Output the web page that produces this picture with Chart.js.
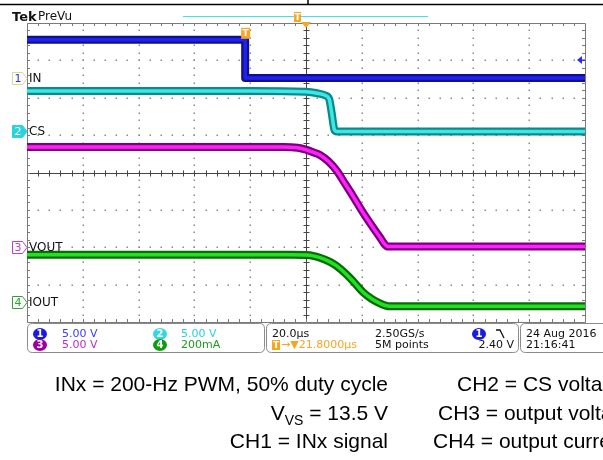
<!DOCTYPE html>
<html>
<head>
<meta charset="utf-8">
<script src="https://cdn.jsdelivr.net/npm/chart.js@4.4.0/dist/chart.umd.min.js"></script>
<style>
html, body { margin: 0; padding: 0; background: #fff; overflow: hidden; }
canvas { display: block; }
</style>
</head>
<body>
<canvas id="scope" width="603" height="460"></canvas>
<script>
// time in µs (20 µs/div, trigger at 0), level in divisions from screen centre
var ch1Time = [-100, -21.8, -21.8, 100];
var ch1Div  = [3.55, 3.55, 2.53, 2.53];
var ch2Time = [-100, -20, 0, 4, 7, 8.3, 9.2, 10.2, 11, 100];
var ch2Div  = [2.18, 2.18, 2.16, 2.12, 2.06, 1.97, 1.6, 1.14, 1.1, 1.1];
var ch3Time = [-100, -8, -3, 0, 3, 5, 8, 11, 14, 17, 20, 23, 26, 29.4, 100];
var ch3Div  = [0.68, 0.68, 0.66, 0.61, 0.53, 0.47, 0.3, 0.05, -0.3, -0.65, -1.02, -1.36, -1.68, -1.98, -1.98];
var ch4Time = [-100, -5, 0, 2.5, 5, 8.6, 11, 14.7, 17.5, 20.4, 23.5, 26.5, 28.5, 30.1, 32, 100];
var ch4Div  = [-2.2, -2.2, -2.21, -2.23, -2.28, -2.39, -2.5, -2.74, -2.96, -3.2, -3.38, -3.5, -3.56, -3.58, -3.58, -3.58];

var channelNames = ['IN', 'CS', 'VOUT', 'IOUT'];
var groundDiv = [2.53, 1.1, -1.98, -3.47];
var scaleText = ['5.00 V', '5.00 V', '5.00 V', '200mA'];
var triggerLevelV = 2.40;
var voltsPerDivCh1 = 5.0;

var darkCol = ['#10108a', '#0a8a8a', '#7a007a', '#0a6a0a'];
var brightCol = ['#2222f0', '#3ee6e6', '#ff22ff', '#22e022'];

function pts(t, v) {
  return t.map(function (x, i) { return { x: x, y: v[i] }; });
}

var traces = [pts(ch1Time, ch1Div), pts(ch2Time, ch2Div), pts(ch3Time, ch3Div), pts(ch4Time, ch4Div)];
var datasets = [];
traces.forEach(function (d, i) {
  var base = { data: d, pointRadius: 0, fill: false, borderJoinStyle: 'round', borderCapStyle: 'butt' };
  if (i === 0) base.tension = 0; else base.cubicInterpolationMode = 'monotone';
  datasets.push(Object.assign({}, base, { borderColor: brightCol[i], borderWidth: 3.5, order: 0 }));
  datasets.push(Object.assign({}, base, { borderColor: darkCol[i], borderWidth: 8, order: 1 }));
});

var UI = '"DejaVu Sans"';

var gridPlugin = {
  id: 'scopeGrid',
  beforeDatasetsDraw: function (chart) {
    var c = chart.ctx, a = chart.chartArea, sx = chart.scales.x, sy = chart.scales.y;
    c.save();
    c.fillStyle = '#8c8c8c';
    var i, k, px, py;
    for (i = -4; i <= 4; i++) {
      if (i === 0) continue;
      px = Math.round(sx.getPixelForValue(i * 20));
      for (k = -19; k <= 19; k++) {
        py = Math.round(sy.getPixelForValue(k * 0.2));
        c.fillRect(px - 0.5, py - 0.5, 1.5, 1.5);
      }
    }
    for (i = -3; i <= 3; i++) {
      if (i === 0) continue;
      py = Math.round(sy.getPixelForValue(i));
      for (k = -24; k <= 24; k++) {
        px = Math.round(sx.getPixelForValue(k * 4));
        c.fillRect(px - 0.5, py - 0.5, 1.5, 1.5);
      }
    }
    // centre cross
    var cx = Math.round(sx.getPixelForValue(0)) + 0.5, cy = Math.round(sy.getPixelForValue(0)) + 0.5;
    c.strokeStyle = '#444';
    c.lineWidth = 1;
    c.beginPath();
    c.moveTo(a.left, cy); c.lineTo(a.right, cy);
    c.moveTo(cx, a.top); c.lineTo(cx, a.bottom);
    for (k = -24; k <= 24; k++) {
      px = Math.round(sx.getPixelForValue(k * 4)) + 0.5;
      c.moveTo(px, cy - 3); c.lineTo(px, cy + 3);
    }
    for (k = -19; k <= 19; k++) {
      py = Math.round(sy.getPixelForValue(k * 0.2)) + 0.5;
      c.moveTo(cx - 3, py); c.lineTo(cx + 3, py);
    }
    c.stroke();
    // border with inward ticks
    c.strokeStyle = '#7a7a7a';
    c.beginPath();
    c.rect(Math.round(a.left) + 0.5, Math.round(a.top) + 0.5, Math.round(a.right - a.left), Math.round(a.bottom - a.top));
    for (k = -24; k <= 24; k++) {
      px = Math.round(sx.getPixelForValue(k * 4)) + 0.5;
      c.moveTo(px, a.top); c.lineTo(px, a.top + 3);
      c.moveTo(px, a.bottom); c.lineTo(px, a.bottom - 3);
    }
    for (k = -19; k <= 19; k++) {
      py = Math.round(sy.getPixelForValue(k * 0.2)) + 0.5;
      c.moveTo(a.left, py); c.lineTo(a.left + 3, py);
      c.moveTo(a.right, py); c.lineTo(a.right - 3, py);
    }
    c.stroke();
    c.restore();
  }
};

function chanBadge(c, x, y, n, fill, fg) {
  c.save();
  c.fillStyle = fill;
  c.beginPath();
  c.ellipse(x, y, 7, 6, 0, 0, Math.PI * 2);
  c.fill();
  c.fillStyle = fg;
  c.font = 'bold 10px ' + UI;
  c.textAlign = 'center';
  c.textBaseline = 'middle';
  c.fillText(n, x, y + 0.5);
  c.restore();
}

function tBox(c, x, y, w, h) {
  c.save();
  c.fillStyle = '#f5a623';
  c.fillRect(x, y, w, h);
  c.fillStyle = '#fff';
  c.font = 'bold 9px ' + UI;
  c.textAlign = 'center';
  c.textBaseline = 'middle';
  c.fillText('T', x + w / 2, y + h / 2 + 0.5);
  c.restore();
}

function roundBox(c, x, y, w, h, r) {
  c.beginPath();
  c.moveTo(x + r, y);
  c.lineTo(x + w - r, y); c.quadraticCurveTo(x + w, y, x + w, y + r);
  c.lineTo(x + w, y + h - r); c.quadraticCurveTo(x + w, y + h, x + w - r, y + h);
  c.lineTo(x + r, y + h); c.quadraticCurveTo(x, y + h, x, y + h - r);
  c.lineTo(x, y + r); c.quadraticCurveTo(x, y, x + r, y);
  c.stroke();
}

var overlayPlugin = {
  id: 'scopeOverlay',
  afterDraw: function (chart) {
    var c = chart.ctx, a = chart.chartArea, sx = chart.scales.x, sy = chart.scales.y;
    c.save();
    // page crop line
    c.strokeStyle = '#000';
    c.lineWidth = 1.5;
    c.beginPath();
    c.moveTo(0, 4.5); c.lineTo(603, 4.5);
    c.moveTo(308, 0); c.lineTo(308, 4.5);
    c.stroke();

    // header
    c.fillStyle = '#111';
    c.textAlign = 'left';
    c.textBaseline = 'alphabetic';
    c.font = 'bold 13px ' + UI;
    c.fillText('Tek', 12, 21);
    c.font = '12px ' + UI;
    c.fillText('PreVu', 38, 20);

    // record bar
    c.strokeStyle = '#3de3ee';
    c.lineWidth = 1.2;
    c.beginPath();
    c.moveTo(183, 16.5); c.lineTo(428, 16.5);
    c.stroke();
    tBox(c, 294, 12, 7, 10);
    var trigX = sx.getPixelForValue(0);
    c.fillStyle = '#f5a623';
    c.beginPath();
    c.moveTo(trigX - 5, a.top - 1); c.lineTo(trigX + 5, a.top - 1); c.lineTo(trigX, a.top + 5);
    c.closePath(); c.fill();

    // trigger point on CH1
    var tpX = sx.getPixelForValue(ch1Time[1]);
    tBox(c, tpX - 4, sy.getPixelForValue(ch1Div[1]) - 12, 9, 11);

    // trigger level arrow
    var tlY = sy.getPixelForValue(groundDiv[0] + triggerLevelV / voltsPerDivCh1);
    c.fillStyle = '#2a2aff';
    c.beginPath();
    c.moveTo(a.right - 8, tlY); c.lineTo(a.right - 3, tlY - 4); c.lineTo(a.right - 3, tlY + 4);
    c.closePath(); c.fill();
    c.fillRect(a.right - 4, tlY - 0.5, 4, 1.5);

    // ground markers
    var mStroke = ['#d8d890', '#2ad4de', '#c040c0', '#30a030'];
    var mFill = [null, '#2ad4de', null, null];
    var mText = ['#2a2aff', '#fff', '#c040c0', '#30a030'];
    for (var i = 0; i < 4; i++) {
      var gy = Math.round(sy.getPixelForValue(groundDiv[i])) + 0.5;
      c.beginPath();
      c.moveTo(12.5, gy - 6); c.lineTo(22.5, gy - 6); c.lineTo(27, gy); c.lineTo(22.5, gy + 6); c.lineTo(12.5, gy + 6);
      c.closePath();
      if (mFill[i]) { c.fillStyle = mFill[i]; c.fill(); }
      c.strokeStyle = mStroke[i]; c.lineWidth = 1; c.stroke();
      c.fillStyle = mText[i];
      c.font = '11px ' + UI;
      c.textAlign = 'center'; c.textBaseline = 'middle';
      c.fillText(String(i + 1), 18, gy + 0.5);
      c.fillStyle = '#111';
      c.font = '12px ' + UI;
      c.textAlign = 'left';
      c.fillText(channelNames[i], 29, gy + 0.5);
    }

    // status panel
    c.strokeStyle = '#8a8a8a';
    c.lineWidth = 1;
    roundBox(c, 27.5, 323.5, 237, 29, 5);
    roundBox(c, 266.5, 323.5, 252, 29, 5);
    roundBox(c, 520.5, 323.5, 100, 29, 5);
    var r1 = 334, r2 = 345;
    chanBadge(c, 40, r1, '1', '#1a1ae0', '#fff');
    chanBadge(c, 40, r2, '3', '#9a009a', '#fff');
    chanBadge(c, 160, r1, '2', '#30d8e2', '#fff');
    chanBadge(c, 160, r2, '4', '#139a13', '#fff');
    chanBadge(c, 479, r1, '1', '#1a1ae0', '#fff');
    tBox(c, 272, r2 - 5, 8, 10);

    c.font = '11px ' + UI;
    c.textAlign = 'left'; c.textBaseline = 'middle';
    c.fillStyle = '#3a3aff'; c.fillText(scaleText[0], 62, r1);
    c.fillStyle = '#c02cc0'; c.fillText(scaleText[2], 62, r2);
    c.fillStyle = '#28d0dc'; c.fillText(scaleText[1], 181, r1);
    c.fillStyle = '#1e9a1e'; c.fillText(scaleText[3], 181, r2);

    c.fillStyle = '#111';
    c.fillText('20.0\u00b5s', 272, r1);
    c.fillText('2.50GS/s', 375, r1);
    c.fillText('5M points', 375, r2);
    c.fillStyle = '#f5a623';
    c.fillText('\u2192\u25bc21.8000\u00b5s', 281, r2);
    c.strokeStyle = '#111'; c.lineWidth = 1.3;
    c.beginPath();
    c.moveTo(496, r1 - 4); c.lineTo(500, r1 - 4); c.lineTo(504, r1 + 4);
    c.stroke();
    c.fillStyle = '#111';
    c.textAlign = 'right';
    c.fillText('2.40 V', 514, r2);
    c.textAlign = 'left';
    c.fillText('24 Aug 2016', 526, r1);
    c.fillText('21:16:41', 526, r2);

    // caption
    var CAP = '"Liberation Sans", Arial, sans-serif';
    c.fillStyle = '#000';
    c.textBaseline = 'alphabetic';
    c.font = '21px ' + CAP;
    c.textAlign = 'right';
    c.fillText('INx = 200-Hz PWM, 50% duty cycle', 388, 391);
    c.fillText('CH1 = INx signal', 388, 448);
    var rest = ' = 13.5 V';
    var wRest = c.measureText(rest).width;
    c.fillText(rest, 388, 420);
    c.font = '14px ' + CAP;
    var wSub = c.measureText('VS').width;
    c.fillText('VS', 388 - wRest, 425);
    c.font = '21px ' + CAP;
    c.fillText('V', 388 - wRest - wSub, 420);
    c.textAlign = 'left';
    c.fillText('CH2 = CS voltage', 457, 391);
    c.fillText('CH3 = output voltage', 438, 420);
    c.fillText('CH4 = output current', 433, 448);
    c.restore();
  }
};

new Chart(document.getElementById('scope'), {
  type: 'line',
  data: { datasets: datasets },
  options: {
    responsive: false,
    animation: false,
    events: [],
    layout: { padding: { left: 27, top: 23, right: 18, bottom: 138 } },
    plugins: { legend: { display: false }, tooltip: { enabled: false } },
    scales: {
      x: { type: 'linear', min: -100, max: 100, display: false },
      y: { type: 'linear', min: -4, max: 4, display: false }
    }
  },
  plugins: [gridPlugin, overlayPlugin]
});
</script>
</body>
</html>
